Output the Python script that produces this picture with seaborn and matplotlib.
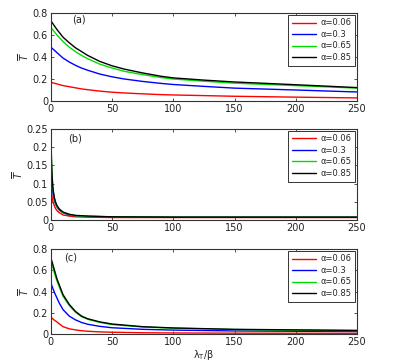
import numpy as np
import matplotlib
matplotlib.use('Agg')
import matplotlib.pyplot as plt
import seaborn as sns

sns.set_style('ticks')
plt.rcParams.update({
    'font.family': ['DejaVu Sans'],
    'font.size': 7,
    'axes.edgecolor': '#333333',
    'axes.linewidth': 0.8,
})

alphas = ['0.06', '0.3', '0.65', '0.85']
colors = ['#ff0000', '#0000ff', '#00dd00', '#000000']

# panel (a)
lam_a = [0, 5, 10, 15, 20, 25, 30, 40, 50, 60, 75, 90, 100, 125, 150, 200, 250]
a_red = [0.17, 0.155, 0.14, 0.13, 0.12, 0.11, 0.103, 0.09, 0.08, 0.073, 0.065, 0.058, 0.055, 0.049, 0.043, 0.035, 0.028]
a_blue = [0.49, 0.44, 0.39, 0.355, 0.325, 0.30, 0.28, 0.245, 0.22, 0.20, 0.178, 0.16, 0.15, 0.133, 0.117, 0.10, 0.082]
a_green = [0.67, 0.60, 0.54, 0.49, 0.45, 0.415, 0.385, 0.335, 0.30, 0.27, 0.24, 0.213, 0.20, 0.18, 0.162, 0.14, 0.117]
a_black = [0.73, 0.65, 0.58, 0.53, 0.485, 0.45, 0.415, 0.36, 0.32, 0.29, 0.255, 0.225, 0.21, 0.19, 0.173, 0.148, 0.122]

# panel (b)
lam_b = [0, 0.5, 1, 1.5, 2, 3, 4, 5, 7, 10, 15, 20, 30, 50, 100, 250]
b_red = [0.09, 0.075, 0.063, 0.054, 0.047, 0.038, 0.031, 0.026, 0.02, 0.014, 0.011, 0.009, 0.008, 0.007, 0.007, 0.007]
b_blue = [0.15, 0.12, 0.095, 0.08, 0.068, 0.053, 0.043, 0.036, 0.027, 0.02, 0.014, 0.012, 0.010, 0.009, 0.008, 0.008]
b_green = [0.24, 0.165, 0.12, 0.094, 0.077, 0.058, 0.046, 0.038, 0.029, 0.021, 0.015, 0.012, 0.010, 0.009, 0.008, 0.008]
b_black = [0.245, 0.17, 0.125, 0.097, 0.08, 0.06, 0.048, 0.04, 0.03, 0.022, 0.016, 0.013, 0.011, 0.009, 0.008, 0.008]

# panel (c)
lam_c = [0, 1, 2, 3, 5, 7, 10, 15, 20, 25, 30, 40, 50, 75, 100, 150, 200, 250]
c_red = [0.16, 0.15, 0.14, 0.13, 0.115, 0.095, 0.07, 0.05, 0.04, 0.032, 0.027, 0.021, 0.018, 0.013, 0.011, 0.009, 0.008, 0.008]
c_blue = [0.48, 0.45, 0.42, 0.39, 0.34, 0.29, 0.23, 0.17, 0.135, 0.11, 0.093, 0.073, 0.06, 0.045, 0.038, 0.03, 0.027, 0.025]
c_green = [0.69, 0.65, 0.61, 0.57, 0.50, 0.44, 0.355, 0.27, 0.207, 0.165, 0.14, 0.11, 0.09, 0.067, 0.056, 0.043, 0.037, 0.033]
c_black = [0.72, 0.68, 0.64, 0.60, 0.52, 0.46, 0.37, 0.28, 0.215, 0.17, 0.145, 0.115, 0.095, 0.07, 0.058, 0.045, 0.04, 0.035]

panels = [
    ('(a)', lam_a, [a_red, a_blue, a_green, a_black], 0.8, [0, 0.2, 0.4, 0.6, 0.8], ['0', '0.2', '0.4', '0.6', '0.8'], (0.07, 0.89)),
    ('(b)', lam_b, [b_red, b_blue, b_green, b_black], 0.25, [0, 0.05, 0.1, 0.15, 0.2, 0.25], ['0', '0.05', '0.1', '0.15', '0.2', '0.25'], (0.056, 0.86)),
    ('(c)', lam_c, [c_red, c_blue, c_green, c_black], 0.8, [0, 0.2, 0.4, 0.6, 0.8], ['0', '0.2', '0.4', '0.6', '0.8'], (0.042, 0.87)),
]
positions = [
    [0.129, 0.721, 0.777, 0.243],
    [0.129, 0.392, 0.777, 0.252],
    [0.129, 0.077, 0.777, 0.235],
]

fig = plt.figure(figsize=(3.94, 3.62), dpi=100)

for (tag, lam, series, ymax, yt, ytl, tpos), pos in zip(panels, positions):
    ax = fig.add_axes(pos)
    for vals, c, a in zip(series, colors, alphas):
        sns.lineplot(x=lam, y=vals, color=c, linewidth=1.0, ax=ax, label='α=' + a)
    ax.set_xlim(0, 250)
    ax.set_ylim(0, ymax)
    ax.set_xticks([0, 50, 100, 150, 200, 250])
    ax.set_yticks(yt)
    ax.set_yticklabels(ytl)
    ax.tick_params(direction='in', top=True, right=True, labelsize=7, length=2.5,
                   width=0.6, pad=2, colors='#333333', labelcolor='#222222')
    for s in ax.spines.values():
        s.set_visible(True)
    ax.set_ylabel(r'$\overline{T}$', fontsize=7, labelpad=1)
    ax.text(tpos[0], tpos[1], tag, transform=ax.transAxes, fontsize=7, color='#222222')
    leg = ax.legend(loc='upper right', fontsize=6, frameon=True, fancybox=False,
                    edgecolor='#333333', framealpha=1, borderaxespad=0.2,
                    handlelength=2.9, labelspacing=0.3, borderpad=0.45, handletextpad=0.5)
    leg.get_frame().set_linewidth(0.7)
    if tag != '(c)':
        ax.set_xlabel('')

ax.set_xlabel(r'$\mathregular{\lambda_T/\beta}$', fontsize=7, labelpad=1)

fig.savefig('out.png', dpi=100)
